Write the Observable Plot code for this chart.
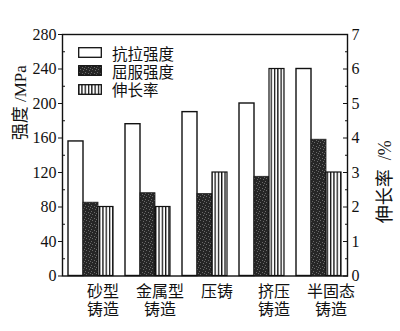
<!DOCTYPE html>
<html><head><meta charset="utf-8">
<script src="https://cdn.jsdelivr.net/npm/d3@7"></script>
<script src="https://cdn.jsdelivr.net/npm/@observablehq/plot@0.6"></script>
<style>
body{margin:0;background:#fff;}
#wrap{position:relative;width:400px;height:331px;}
#legend{position:absolute;left:78px;top:43.5px;font-family:'Noto Sans CJK SC',sans-serif;font-size:15.5px;line-height:18px;color:#111;}
#legend .row{display:flex;align-items:center;height:18.3px;overflow:visible;}
#legend span{line-height:16px;display:block;}
#legend svg{margin-right:10px;display:block;}
</style></head><body><div id="wrap"><div id="legend"></div></div>
<script>
const categories = ["砂型铸造","金属型铸造","压铸","挤压铸造","半固态铸造"];
const categoryLabels = ["砂型\n铸造","金属型\n铸造","压铸","挤压\n铸造","半固态\n铸造"];
const seriesNames = ["抗拉强度","屈服强度","伸长率"];
const tensileStrength = [156,176,190,200,240];
const yieldStrength = [85,96,95,115,158];
const elongation = [2.0,2.0,3.0,6.0,3.0];
const leftTicks = [0,40,80,120,160,200,240,280];
const rightTicks = [0,1,2,3,4,5,6,7];
const leftTitle = "强度 /MPa";
const rightTitle = "伸长率  /%";
const pctToMPa = 40; // right axis 0–7 % spans the same height as 0–280 MPa

const rows = categories.map((c,i)=>({c, t:tensileStrength[i], y:yieldStrength[i], e:elongation[i]}));
const bw = 15;
const fonts = "'Liberation Serif','Noto Sans CJK SC',serif";

const chart = Plot.plot({
  width:400, height:331, marginLeft:62, marginRight:53, marginTop:34, marginBottom:55.5,
  style:{fontFamily:fonts, fontSize:"16px", color:"#111", background:"transparent"},
  x:{domain:categories, paddingInner:0.214, paddingOuter:0.096, axis:null},
  y:{domain:[0,280], axis:null},
  marks:[
    Plot.barY(rows,{x:"c", y:"t", fill:"white", stroke:"#111", strokeWidth:1.4, insetRight:2*bw}),
    Plot.barY(rows,{x:"c", y:"y", fill:"url(#darkTex)", stroke:"#222", strokeWidth:0.8, insetLeft:bw, insetRight:bw}),
    Plot.barY(rows,{x:"c", y:d=>d.e*pctToMPa, fill:"url(#stripeTex)", stroke:"#111", strokeWidth:1.2, insetLeft:2*bw}),
    Plot.frame({stroke:"#111", strokeWidth:1.4}),
    Plot.axisY({ticks:leftTicks, tickSize:4, tickPadding:2, tickFormat:d=>d, fontSize:16, label:null}),
    Plot.axisY({ticks:d3.range(20,280,40), tickSize:3, dx:3, tickFormat:()=>"", label:null}),
    Plot.axisY({anchor:"right", ticks:rightTicks.map(v=>v*pctToMPa), tickSize:5, dx:-5, tickFormat:()=>"", label:null}),
    Plot.axisY({anchor:"right", ticks:rightTicks.map(v=>v*pctToMPa), tickSize:0, tickPadding:4, tickFormat:d=>d/pctToMPa, fontSize:16, label:null}),
    Plot.axisY({anchor:"right", ticks:d3.range(20,280,40), tickSize:3, dx:-3, tickFormat:()=>"", label:null}),
    Plot.axisX({tickSize:0, tickPadding:9, dx:12, fontSize:16, lineHeight:1.08, label:null, tickFormat:c=>categoryLabels[categories.indexOf(c)]}),
    Plot.text([leftTitle],{text:d=>d, frameAnchor:"left", rotate:-90, dx:-42, dy:-15, fontSize:17}),
    Plot.text([rightTitle],{text:d=>d, frameAnchor:"right", rotate:-90, dx:38, dy:-15, fontSize:18})
  ]
});

const defs = d3.select(chart).insert("defs", ":first-child");
const st = defs.append("pattern").attr("id","stripeTex").attr("patternUnits","userSpaceOnUse").attr("width",3.3).attr("height",10);
st.append("rect").attr("width",3.3).attr("height",10).attr("fill","#fff");
st.append("rect").attr("width",1.3).attr("height",10).attr("fill","#111");
const dk = defs.append("pattern").attr("id","darkTex").attr("patternUnits","userSpaceOnUse").attr("width",6).attr("height",6);
dk.append("rect").attr("width",6).attr("height",6).attr("fill","#262626");
[[1,1],[4,2],[2,4],[5,5],[0,3]].forEach(([x,y])=>dk.append("rect").attr("x",x).attr("y",y).attr("width",1).attr("height",1).attr("fill","#6a6a6a"));

document.getElementById("wrap").prepend(chart);

const fillsForLegend = ["#fff","url(#darkTex)","url(#stripeTex)"];
const legend = d3.select("#legend");
seriesNames.forEach((name,i)=>{
  const row = legend.append("div").attr("class","row");
  const s = row.append("svg").attr("width",24).attr("height",11);
  s.append("rect").attr("x",0.7).attr("y",0.7).attr("width",22.6).attr("height",9.6).attr("fill",fillsForLegend[i]).attr("stroke","#111").attr("stroke-width",1.3);
  row.append("span").text(name);
});
</script></body></html>
